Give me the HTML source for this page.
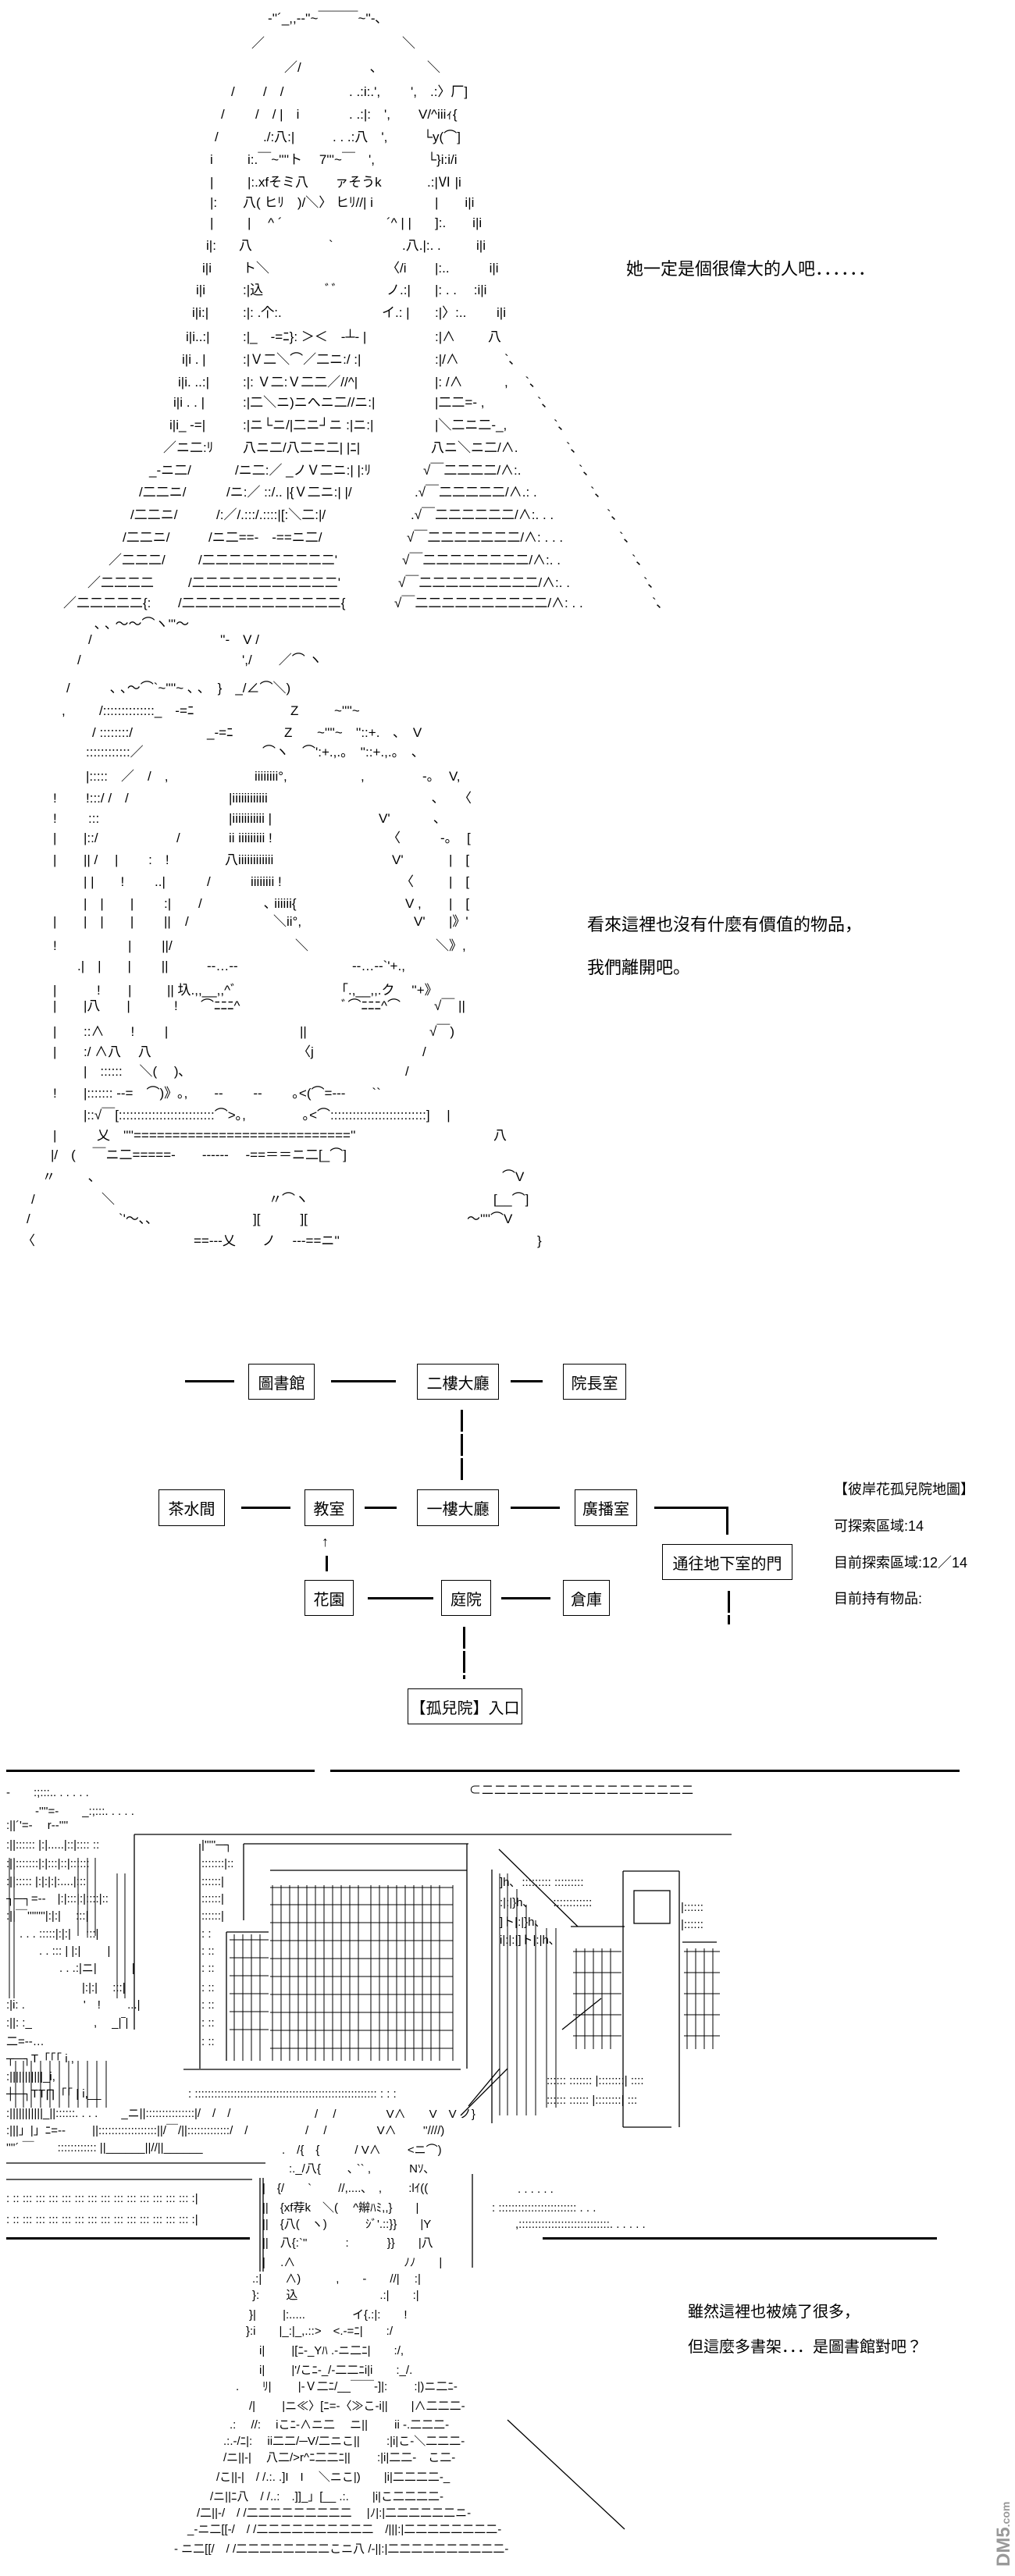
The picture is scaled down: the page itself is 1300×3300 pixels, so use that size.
<!DOCTYPE html>
<html><head><meta charset="utf-8">
<style>
html,body{margin:0;padding:0;background:#fff;}
#c{position:relative;width:1300px;height:3300px;overflow:hidden;background:#fff;color:#000;
font-family:"Liberation Sans","Noto Sans CJK JP",sans-serif;}
.a{position:absolute;white-space:pre;font-size:17px;line-height:1;color:#000;}
.b{position:absolute;white-space:pre;font-size:15px;line-height:1;color:#000;}
.t{position:absolute;white-space:pre;font-size:22px;line-height:1;}
.m{position:absolute;white-space:pre;font-size:18px;line-height:1;}
.bx{position:absolute;border:1.5px solid #000;box-sizing:border-box;font-size:20px;display:flex;align-items:center;justify-content:center;white-space:nowrap;}
.h{position:absolute;height:3px;background:#000;}
.v{position:absolute;width:3px;background:#000;}
.vd{position:absolute;width:3px;background:repeating-linear-gradient(#000 0 28px,#fff 28px 31px);}
</style></head><body><div id="c">

<!-- ART 1 -->
<span class="a" style="left:343px;top:15px">‐''´_,,-‐''~￣￣￣~''-､</span>
<span class="a" style="left:322px;top:47px">／</span><span class="a" style="left:515px;top:47px">＼</span>
<span class="a" style="left:364px;top:78px">／/</span><span class="a" style="left:474px;top:78px">､</span><span class="a" style="left:547px;top:78px">＼</span>
<span class="a" style="left:296px;top:109px">/</span><span class="a" style="left:337px;top:109px">/　/</span><span class="a" style="left:447px;top:109px">. .:i:.',</span><span class="a" style="left:526px;top:109px">',　.:〉厂]</span>
<span class="a" style="left:283px;top:138px">/</span><span class="a" style="left:327px;top:138px">/　/ |　i</span><span class="a" style="left:447px;top:138px">. .:|:　',</span><span class="a" style="left:536px;top:138px">V/^iiiｨ{</span>
<span class="a" style="left:275px;top:167px">/</span><span class="a" style="left:337px;top:167px">./:八:|</span><span class="a" style="left:426px;top:167px">. . .:八　',</span><span class="a" style="left:542px;top:167px">└y(⌒]</span>
<span class="a" style="left:269px;top:196px">i</span><span class="a" style="left:317px;top:196px">i:.￣~''''ト　 7'''~￣　',</span><span class="a" style="left:547px;top:196px">└}i:i/i</span>
<span class="a" style="left:269px;top:225px">|</span><span class="a" style="left:317px;top:225px">|:.xfそミ八　　ァそうk</span><span class="a" style="left:547px;top:225px">.:|Ⅵ |i</span>
<span class="a" style="left:269px;top:251px">|:</span><span class="a" style="left:311px;top:251px">八( ヒﾘ　)/＼〉 ヒﾘ//| i</span><span class="a" style="left:557px;top:251px">|　　i|i</span>
<span class="a" style="left:269px;top:277px">|</span><span class="a" style="left:317px;top:277px">|　 ^ ´</span><span class="a" style="left:495px;top:277px">´^ | |</span><span class="a" style="left:557px;top:277px">]:.　　i|i</span>
<span class="a" style="left:264px;top:306px">i|:</span><span class="a" style="left:306px;top:306px">八</span><span class="a" style="left:421px;top:306px">`</span><span class="a" style="left:515px;top:306px">.八.|:. .</span><span class="a" style="left:610px;top:306px">i|i</span>
<span class="a" style="left:259px;top:335px">i|i</span><span class="a" style="left:311px;top:335px">ト＼</span><span class="a" style="left:495px;top:335px">〈/i</span><span class="a" style="left:557px;top:335px">|:..　　　i|i</span>
<span class="a" style="left:251px;top:363px">i|i</span><span class="a" style="left:311px;top:363px">:|込</span><span class="a" style="left:416px;top:363px">ﾞﾞ</span><span class="a" style="left:495px;top:363px">ノ.:|</span><span class="a" style="left:557px;top:363px">|: . .　 :i|i</span>
<span class="a" style="left:246px;top:392px">i|i:|</span><span class="a" style="left:311px;top:392px">:|: .个:.</span><span class="a" style="left:489px;top:392px">イ.: |</span><span class="a" style="left:557px;top:392px">:|〉:..　　 i|i</span>
<span class="a" style="left:238px;top:423px">i|i..:|</span><span class="a" style="left:311px;top:423px">:|_　-=ﾆ}: ＞＜　-┴‐ |</span><span class="a" style="left:557px;top:423px">:|∧</span><span class="a" style="left:625px;top:423px">八</span>
<span class="a" style="left:233px;top:452px">i|i . |</span><span class="a" style="left:311px;top:452px">:|Ｖ二＼⌒／二ニ:/ :|</span><span class="a" style="left:557px;top:452px">:|/∧</span><span class="a" style="left:646px;top:452px">`､</span>
<span class="a" style="left:228px;top:481px">i|i. ..:|</span><span class="a" style="left:311px;top:481px">:|: Ｖ二:Ｖ二二／//^|</span><span class="a" style="left:557px;top:481px">|: /∧</span><span class="a" style="left:646px;top:481px">,　 `､</span>
<span class="a" style="left:222px;top:507px">i|i . . |</span><span class="a" style="left:311px;top:507px">:|二＼ニ)ニへニ二//ニ:|</span><span class="a" style="left:557px;top:507px">|二二=‐ ,</span><span class="a" style="left:688px;top:507px">`､</span>
<span class="a" style="left:217px;top:536px">i|i_ -=|</span><span class="a" style="left:311px;top:536px">:|ニ└ニ/|二ニ┘ニ :|ニ:|</span><span class="a" style="left:557px;top:536px">|＼二ニ二-_,</span><span class="a" style="left:709px;top:536px">`､</span>
<span class="a" style="left:209px;top:565px">／ニ二:ﾘ</span><span class="a" style="left:311px;top:565px">八ニ二/八二ニ二| |ﾆ|</span><span class="a" style="left:552px;top:565px">八ニ＼ニ二/∧.</span><span class="a" style="left:725px;top:565px">`､</span>
<span class="a" style="left:191px;top:594px">_-ニ二/</span><span class="a" style="left:301px;top:594px">/ニ二:／ _ノＶ二ニ:| |:ﾘ</span><span class="a" style="left:542px;top:594px">√￣二二二二/∧:.</span><span class="a" style="left:741px;top:594px">`､</span>
<span class="a" style="left:178px;top:622px">/二二ニ/</span><span class="a" style="left:290px;top:622px">/ニ:／ ::/.. |{Ｖ二ニ:| |/</span><span class="a" style="left:531px;top:622px">.√￣二二二二二/∧.: .</span><span class="a" style="left:756px;top:622px">`､</span>
<span class="a" style="left:167px;top:651px">/二二ニ/</span><span class="a" style="left:277px;top:651px">/:／/.:::/.::::|[:＼二:|/</span><span class="a" style="left:526px;top:651px">.√￣二二二二二二/∧:. . .</span><span class="a" style="left:777px;top:651px">`､</span>
<span class="a" style="left:157px;top:680px">/二二ニ/</span><span class="a" style="left:267px;top:680px">/ニ二==‐　‐==ニ二/</span><span class="a" style="left:521px;top:680px">√￣二二二二二二二/∧: . . .</span><span class="a" style="left:793px;top:680px">`､</span>
<span class="a" style="left:139px;top:709px">／二二二/</span><span class="a" style="left:254px;top:709px">/二二二二二二二二二二'</span><span class="a" style="left:515px;top:709px">√￣二二二二二二二二/∧:. .</span><span class="a" style="left:809px;top:709px">`､</span>
<span class="a" style="left:112px;top:738px">／二二二二</span><span class="a" style="left:241px;top:738px">/二二二二二二二二二二二'</span><span class="a" style="left:510px;top:738px">√￣二二二二二二二二二/∧:. .</span><span class="a" style="left:824px;top:738px">`､</span>
<span class="a" style="left:81px;top:764px">／二二二二二{:</span><span class="a" style="left:228px;top:764px">/二二二二二二二二二二二二{</span><span class="a" style="left:505px;top:764px">√￣二二二二二二二二二二/∧: . .</span><span class="a" style="left:835px;top:764px">`､</span>

<div class="t" style="left:802px;top:334px">她一定是個很偉大的人吧．．．．．．</div>

<!-- ART 2 -->
<span class="a" style="left:121px;top:791px">､ ､ ～～⌒ヽ'''～</span>
<span class="a" style="left:113px;top:811px">/</span><span class="a" style="left:282px;top:811px">''-　V /</span>
<span class="a" style="left:99px;top:837px">/</span><span class="a" style="left:310px;top:837px">',/　　／⌒ ヽ</span>
<span class="a" style="left:85px;top:873px">/</span><span class="a" style="left:141px;top:873px">､ ､～⌒`~''''~ ､ ､　}　_/∠⌒＼)</span>
<span class="a" style="left:79px;top:902px">,</span><span class="a" style="left:127px;top:902px">/::::::::::::::_　-=ﾆ</span><span class="a" style="left:372px;top:902px">Z</span><span class="a" style="left:428px;top:902px">~''''~</span>
<span class="a" style="left:118px;top:930px">/ ::::::::/</span><span class="a" style="left:265px;top:930px">_-=ﾆ</span><span class="a" style="left:364px;top:930px">Z</span><span class="a" style="left:406px;top:930px">~''''~　''::+.　､　V</span>
<span class="a" style="left:110px;top:955px">::::::::::::／</span><span class="a" style="left:336px;top:955px">⌒ヽ　⌒':+.,.。　''::+.,.。　､</span>
<span class="a" style="left:110px;top:986px">|:::::　／　/　,</span><span class="a" style="left:326px;top:986px">iiiiiiii°,</span><span class="a" style="left:462px;top:986px">,</span><span class="a" style="left:541px;top:986px">-。</span><span class="a" style="left:575px;top:986px">V,</span>
<span class="a" style="left:68px;top:1014px">!</span><span class="a" style="left:110px;top:1014px">!:::/ /　/</span><span class="a" style="left:293px;top:1014px">|iiiiiiiiiiii</span><span class="a" style="left:553px;top:1014px">､</span><span class="a" style="left:587px;top:1014px">〈</span>
<span class="a" style="left:68px;top:1040px">!</span><span class="a" style="left:113px;top:1040px">:::</span><span class="a" style="left:293px;top:1040px">|iiiiiiiiiii |</span><span class="a" style="left:485px;top:1040px">V'　　　 ､</span>
<span class="a" style="left:68px;top:1065px">|</span><span class="a" style="left:107px;top:1065px">|::/</span><span class="a" style="left:226px;top:1065px">/</span><span class="a" style="left:293px;top:1065px">ii iiiiiiiii !</span><span class="a" style="left:496px;top:1065px">〈</span><span class="a" style="left:564px;top:1065px">-。</span><span class="a" style="left:598px;top:1065px">[</span>
<span class="a" style="left:68px;top:1093px">|</span><span class="a" style="left:107px;top:1093px">|| /　 |　　 :　!</span><span class="a" style="left:288px;top:1093px">八iiiiiiiiiiii</span><span class="a" style="left:502px;top:1093px">V'</span><span class="a" style="left:575px;top:1093px">|　[</span>
<span class="a" style="left:107px;top:1121px">| |　　!　　 ..|</span><span class="a" style="left:265px;top:1121px">/</span><span class="a" style="left:321px;top:1121px">iiiiiiii !</span><span class="a" style="left:513px;top:1121px">〈</span><span class="a" style="left:575px;top:1121px">|　[</span>
<span class="a" style="left:107px;top:1149px">|　|　　|　　 :|</span><span class="a" style="left:254px;top:1149px">/</span><span class="a" style="left:338px;top:1149px">､ iiiiii{</span><span class="a" style="left:519px;top:1149px">V ,</span><span class="a" style="left:575px;top:1149px">|　[</span>
<span class="a" style="left:68px;top:1172px">|</span><span class="a" style="left:107px;top:1172px">|　|　　|　　 ||</span><span class="a" style="left:237px;top:1172px">/</span><span class="a" style="left:350px;top:1172px">＼ii°,</span><span class="a" style="left:530px;top:1172px">V'</span><span class="a" style="left:575px;top:1172px">|》'</span>
<span class="a" style="left:68px;top:1203px">!</span><span class="a" style="left:164px;top:1203px">|　　 ||/</span><span class="a" style="left:378px;top:1203px">＼</span><span class="a" style="left:558px;top:1203px">＼》,</span>
<span class="a" style="left:99px;top:1229px">.|　|　　|　　 ||</span><span class="a" style="left:265px;top:1229px">-‐…‐-</span><span class="a" style="left:451px;top:1229px">-‐…‐-`'+.,</span>
<span class="a" style="left:68px;top:1260px">|</span><span class="a" style="left:124px;top:1260px">!</span><span class="a" style="left:164px;top:1260px">|</span><span class="a" style="left:214px;top:1260px">|| 圦.,,__,,^ﾞ</span><span class="a" style="left:429px;top:1260px">「.,__,,.ク　 ''+》</span>
<span class="a" style="left:68px;top:1280px">|</span><span class="a" style="left:107px;top:1280px">|八　　|</span><span class="a" style="left:223px;top:1280px">!</span><span class="a" style="left:257px;top:1280px">⌒ﾆﾆﾆ^</span><span class="a" style="left:437px;top:1280px">ﾞ⌒ﾆﾆﾆ^⌒</span><span class="a" style="left:556px;top:1280px">√￣ ||</span>
<span class="a" style="left:68px;top:1313px">|</span><span class="a" style="left:107px;top:1313px">::∧　　!　　 |</span><span class="a" style="left:384px;top:1313px">||</span><span class="a" style="left:550px;top:1313px">√￣)</span>
<span class="a" style="left:68px;top:1339px">|</span><span class="a" style="left:107px;top:1339px">:/ ∧八　 八</span><span class="a" style="left:381px;top:1339px">〈j</span><span class="a" style="left:541px;top:1339px">/</span>
<span class="a" style="left:107px;top:1364px">|　::::::　 ＼(　 )､</span><span class="a" style="left:519px;top:1364px">/</span>
<span class="a" style="left:68px;top:1392px">!</span><span class="a" style="left:107px;top:1392px">|::::::: -‐=　⌒)》｡,　　--　　 --　　 ｡<(⌒=‐‐-　　``</span>
<span class="a" style="left:107px;top:1420px">|::√￣[::::::::::::::::::::::::::⌒>｡,　　　　 ｡<⌒::::::::::::::::::::::::::]　 |</span>
<span class="a" style="left:68px;top:1446px">|</span><span class="a" style="left:124px;top:1446px">乂　''''============================''</span><span class="a" style="left:632px;top:1446px">八</span>
<span class="a" style="left:65px;top:1471px">|/　(　 ￣ニ二=====‐　　‐‐‐‐‐‐　 ‐==＝＝ニ二[_⌒]</span>
<span class="a" style="left:54px;top:1499px">〃</span><span class="a" style="left:113px;top:1499px">､</span><span class="a" style="left:643px;top:1499px">⌒V</span>
<span class="a" style="left:40px;top:1528px">/</span><span class="a" style="left:130px;top:1528px">＼</span><span class="a" style="left:344px;top:1528px">〃⌒ヽ</span><span class="a" style="left:632px;top:1528px">[__⌒]</span>
<span class="a" style="left:34px;top:1553px">/</span><span class="a" style="left:152px;top:1553px">`'～､､</span><span class="a" style="left:324px;top:1553px">][　　　][</span><span class="a" style="left:598px;top:1553px">～''''⌒V</span>
<span class="a" style="left:28px;top:1581px">〈</span><span class="a" style="left:248px;top:1581px">==‐‐-乂　　ノ　 --‐==ニ''</span><span class="a" style="left:688px;top:1581px">}</span>

<div class="t" style="left:752px;top:1174px">看來這裡也沒有什麼有價值的物品，</div>
<div class="t" style="left:752px;top:1229px">我們離開吧。</div>

<!-- MAP -->
<div class="h" style="left:237px;top:1768px;width:63px"></div>
<div class="bx" style="left:318px;top:1747px;width:85px;height:46px">圖書館</div>
<div class="h" style="left:424px;top:1768px;width:83px"></div>
<div class="bx" style="left:534px;top:1747px;width:105px;height:46px">二樓大廳</div>
<div class="h" style="left:654px;top:1768px;width:41px"></div>
<div class="bx" style="left:721px;top:1747px;width:81px;height:46px">院長室</div>
<div class="vd" style="left:590px;top:1806px;height:91px"></div>

<div class="bx" style="left:203px;top:1908px;width:85px;height:47px">茶水間</div>
<div class="h" style="left:309px;top:1930px;width:63px"></div>
<div class="bx" style="left:390px;top:1908px;width:63px;height:47px">教室</div>
<div class="h" style="left:467px;top:1930px;width:41px"></div>
<div class="bx" style="left:534px;top:1908px;width:105px;height:47px">一樓大廳</div>
<div class="h" style="left:654px;top:1930px;width:63px"></div>
<div class="bx" style="left:736px;top:1908px;width:80px;height:47px">廣播室</div>
<div class="h" style="left:838px;top:1930px;width:95px"></div>
<div class="v" style="left:930px;top:1930px;height:36px"></div>
<div class="bx" style="left:848px;top:1978px;width:167px;height:46px">通往地下室的門</div>
<div class="vd" style="left:932px;top:2038px;height:43px"></div>

<div style="position:absolute;left:412px;top:1966px;font-size:18px;line-height:1">↑</div>
<div class="v" style="left:417px;top:1993px;height:20px"></div>

<div class="bx" style="left:390px;top:2024px;width:63px;height:46px">花園</div>
<div class="h" style="left:471px;top:2046px;width:84px"></div>
<div class="bx" style="left:565px;top:2024px;width:64px;height:46px">庭院</div>
<div class="h" style="left:642px;top:2046px;width:63px"></div>
<div class="bx" style="left:721px;top:2024px;width:60px;height:46px">倉庫</div>
<div class="vd" style="left:593px;top:2084px;height:67px"></div>
<div class="bx" style="left:522px;top:2163px;width:147px;height:46px">【孤兒院】入口</div>

<div class="m" style="left:1068px;top:1899px">【彼岸花孤兒院地圖】</div>
<div class="m" style="left:1068px;top:1946px">可探索區域:14</div>
<div class="m" style="left:1068px;top:1993px">目前探索區域:12／14</div>
<div class="m" style="left:1068px;top:2039px">目前持有物品:</div>

<!-- ART 3 lines -->
<div class="h" style="left:8px;top:2267px;width:395px"></div>
<div class="h" style="left:423px;top:2267px;width:806px"></div>
<div class="h" style="left:8px;top:2866px;width:312px"></div>
<div class="h" style="left:695px;top:2866px;width:505px"></div>
<span class="b" style="left:601px;top:2286px;letter-spacing:1px">⊂二二二二二二二二二二二二二二二二二</span>

<svg style="position:absolute;left:0;top:0" width="1300" height="3300">
<g stroke="#000" stroke-width="1.3" fill="none">
<line x1="172" y1="2350" x2="937" y2="2350"/>
<line x1="312" y1="2362" x2="600" y2="2362"/>
<line x1="172" y1="2350" x2="172" y2="2600"/>
<line x1="346" y1="2396" x2="598" y2="2396"/>
<line x1="235" y1="2651" x2="590" y2="2651"/>
<line x1="256" y1="2362" x2="256" y2="2650"/>
<line x1="312" y1="2362" x2="312" y2="2460"/>
<line x1="598" y1="2362" x2="598" y2="2650"/>
<line x1="290" y1="2475" x2="344" y2="2475"/>
<line x1="290" y1="2475" x2="290" y2="2640"/>
<line x1="639" y1="2369" x2="740" y2="2468"/>
<line x1="630" y1="2395" x2="630" y2="2720"/>
<line x1="731" y1="2468" x2="800" y2="2468"/>
<line x1="798" y1="2397" x2="870" y2="2397"/>
<line x1="798" y1="2397" x2="798" y2="2725"/>
<line x1="870" y1="2397" x2="870" y2="2725"/>
<line x1="798" y1="2725" x2="860" y2="2725"/>
<rect x="812" y="2422" width="46" height="42"/>
<line x1="874" y1="2488" x2="918" y2="2488"/>
<line x1="8" y1="2792" x2="323" y2="2792"/>
<line x1="333" y1="2790" x2="333" y2="2910"/>
<line x1="337" y1="2790" x2="337" y2="2910"/>
<line x1="605" y1="2785" x2="605" y2="2905"/>
<line x1="720" y1="2600" x2="770" y2="2560"/>
<line x1="650" y1="3100" x2="800" y2="3240"/>
<line x1="8" y1="2771" x2="340" y2="2771"/>
<line x1="600" y1="2698" x2="640" y2="2650"/>
<line x1="590" y1="2710" x2="650" y2="2650"/>
</g>
<g stroke="#000" stroke-width="1">
<path d="M349 2415V2640M360 2415V2640M371 2415V2640M382 2415V2640M393 2415V2640M404 2415V2640M415 2415V2640M426 2415V2640M437 2415V2640M448 2415V2640M459 2415V2640M475 2415V2640M486 2415V2640M497 2415V2640M508 2415V2640M519 2415V2640M530 2415V2640M541 2415V2640M552 2415V2640M563 2415V2640M580 2415V2640"/>
<path d="M346 2418H580M346 2440H580M346 2463H580M346 2486H580M346 2509H580M346 2532H580M346 2555H580M346 2578H580M346 2601H580M346 2624H580"/>
<path d="M294 2485H344M294 2508H344M294 2531H344M294 2554H344M294 2577H344M294 2600H344M300 2478V2640M311 2478V2640M322 2478V2640M333 2478V2640"/>
<path d="M640 2400V2710M650 2400V2710M662 2420V2710M674 2440V2710M686 2460V2710M700 2470V2700M712 2470V2700"/>
<path d="M738 2496V2625M749 2496V2625M760 2496V2625M771 2496V2625M782 2496V2625M734 2500H796M734 2527H796M734 2554H796M734 2581H796M734 2608H796"/>
<path d="M880 2496V2625M891 2496V2625M902 2496V2625M913 2496V2625M876 2500H922M876 2527H922M876 2554H922M876 2581H922M876 2608H922"/>
<path d="M12 2380V2560M18 2380V2560M100 2380V2480M112 2380V2480M122 2380V2480M150 2400V2560M160 2400V2560"/>
<path d="M20 2640V2700M30 2640V2700M40 2640V2700M52 2640V2700M64 2640V2700M76 2640V2700M88 2640V2700M100 2640V2700M112 2640V2700M124 2640V2700M136 2640V2700"/>
</g>
</svg>

<!-- ART 3 text -->
<span class="b" style="left:8px;top:2289px">‐　　:;:::.. . . . . .</span>
<span class="b" style="left:45px;top:2313px">-''''=-　　_:;:::. . . . .</span>
<span class="b" style="left:8px;top:2331px">:||´'=-　 r‐-''''</span>
<span class="b" style="left:8px;top:2356px">:||:::::: |:|.....|::|:::: ::</span><span class="b" style="left:258px;top:2356px">|'''''─┐</span>
<span class="b" style="left:8px;top:2380px">:||:::::::|:|:::|::|::::::</span><span class="b" style="left:258px;top:2380px">:::::::|::</span>
<span class="b" style="left:8px;top:2403px">:||::::: |:|:|:|:....|:::</span><span class="b" style="left:258px;top:2403px">::::::|</span>
<span class="b" style="left:8px;top:2425px">┐─┐=-‐　|:|:::|:|::::|::</span><span class="b" style="left:258px;top:2425px">::::::|</span>
<span class="b" style="left:8px;top:2447px">:||￣''''''''|:|:|　 :::|</span><span class="b" style="left:258px;top:2447px">::::::|</span>
<span class="b" style="left:25px;top:2470px">. . . :::::|:|:|　 :::|</span><span class="b" style="left:258px;top:2470px">: :</span>
<span class="b" style="left:50px;top:2492px">. . ::: | |:|　　 |</span><span class="b" style="left:258px;top:2492px">: ::</span>
<span class="b" style="left:76px;top:2514px">. . .:|ニ|　　　|</span><span class="b" style="left:258px;top:2514px">: ::</span>
<span class="b" style="left:105px;top:2539px">|:|:|　 :::|</span><span class="b" style="left:258px;top:2539px">: ::</span>
<span class="b" style="left:8px;top:2561px">:|i: .　　　　　'　!　　 ...|</span><span class="b" style="left:258px;top:2561px">: ::</span>
<span class="b" style="left:8px;top:2584px">:||: :_　　　　　 ,　 _|‾|</span><span class="b" style="left:258px;top:2584px">: ::</span>
<span class="b" style="left:8px;top:2608px">二=-‐…</span><span class="b" style="left:258px;top:2608px">: ::</span>
<span class="b" style="left:8px;top:2630px">┬─┐T「「「 i ,</span>
<span class="b" style="left:8px;top:2653px">:|||||||||||_i,</span>
<span class="b" style="left:8px;top:2675px">┼─┐TT∏「「 | i,__</span><span class="b" style="left:241px;top:2675px">: :::::::::::::::::::::::::::::::::::::::::::::::::::::::: : : :</span>
<span class="b" style="left:8px;top:2700px">:|||||||||||_||::::::. . . .　　_ニ||:::::::::::::::|/　/　/</span>
<span class="b" style="left:8px;top:2722px">:|||」|」ﾆ=-‐　　 ||::::::::::::::::::||/￣/||:::::::::::::/　/</span>
<span class="b" style="left:8px;top:2744px">''''´ ￣　　:::::::::::: ||______||//||______</span>
<span class="b" style="left:8px;top:2809px">: :: ::: ::: ::: ::: ::: ::: ::: ::: ::: ::: ::: ::: ::: :|</span>
<span class="b" style="left:8px;top:2836px">: :: ::: ::: ::: ::: ::: ::: ::: ::: ::: ::: ::: ::: ::: :|</span>
<span class="b" style="left:640px;top:2404px">]h､</span><span class="b" style="left:660px;top:2404px">  ::::::::: :::::::::</span>
<span class="b" style="left:640px;top:2430px">:|:|}h､</span><span class="b" style="left:700px;top:2430px">  ::::::::::::</span>
<span class="b" style="left:640px;top:2455px">]ト|:|}h､</span>
<span class="b" style="left:640px;top:2478px">i|:|:|]ト|:|h､</span>
<span class="b" style="left:872px;top:2436px">|::::::</span><span class="b" style="left:872px;top:2458px">|::::::</span>
<span class="b" style="left:700px;top:2658px">:::::: ::::::: |::::::::| ::::</span>
<span class="b" style="left:700px;top:2683px">:::::: :::::: |::::::::| :::</span>
<span class="b" style="left:663px;top:2797px">. . . . . .</span>
<span class="b" style="left:630px;top:2821px">: :::::::::::::::::::::::: . . .</span>
<span class="b" style="left:660px;top:2842px">,::::::::::::::::::::::::::::. . . . . .</span>

<span class="b" style="left:403px;top:2701px">/　 /　　　　 V∧　　V　V ノ}</span>
<span class="b" style="left:391px;top:2722px">/　 /　　　　 V∧　　 ''////)</span>
<span class="b" style="left:361px;top:2747px">.　/{　{　　　/ V∧　　 <ニ⌒)</span>
<span class="b" style="left:370px;top:2771px">:._/八{　　 ､ `` ,　　　 Nｿ､</span>
<span class="b" style="left:336px;top:2796px">|　{/　　`　　 //,....､　,　　 :lｲ((</span>
<span class="b" style="left:336px;top:2821px">||　{xf荐k　＼(　 ^辮ﾊﾐ,,}　　|</span>
<span class="b" style="left:336px;top:2842px">||　{八(　ヽ)　　　 ｼﾞ'.::}}　　|Y</span>
<span class="b" style="left:336px;top:2866px">||　八{:`"　　　 :　　　 }}　　|八</span>
<span class="b" style="left:336px;top:2891px">|　 .∧　　　　　　　　　 ﾉﾉ　　|</span>
<span class="b" style="left:323px;top:2912px">.:|　　∧)　　　,　　-　　//|　 :|</span>
<span class="b" style="left:323px;top:2933px">}:　　 込　　　　　　　.:|　　:|</span>
<span class="b" style="left:319px;top:2958px">}|　　 |:.....　　　　イ{.:|:　　!</span>
<span class="b" style="left:315px;top:2979px">}:i　　|_:|_,.::>　<.-=ﾆ|　　:/</span>
<span class="b" style="left:332px;top:3004px">i|　　 |[ﾆ-_Yﾊ .-ニ二ﾆ|　　:/,</span>
<span class="b" style="left:332px;top:3029px">i|　　 |'/こﾆ-_/-二二ﾆi|i　　:_/.</span>
<span class="b" style="left:302px;top:3050px">.　　ﾘ|　　 |-Ｖ二ﾆ/__￣￣-]|:　　 :|)ニ二ﾆ-</span>
<span class="b" style="left:319px;top:3075px">/|　　 |ニ≪〉[ﾆ=-〈≫こ-i||　　|∧二二二-</span>
<span class="b" style="left:294px;top:3099px">.:　 //:　 iこﾆ-∧ニ二　 ニ||　　 ii -.二二二-</span>
<span class="b" style="left:286px;top:3120px">.:.-/ﾆ|:　 ii二二/─V/二ニこ||　　 :|i|こ‐＼二二二-</span>
<span class="b" style="left:286px;top:3141px">/ニ||-|　 八二/>r^ﾆ二二ﾆ||　　 :|i|二二-　こ二-</span>
<span class="b" style="left:277px;top:3166px">/こ||-|　/ /.:. .]I　I　 ＼ニこ|)　　|i|二二二二-_</span>
<span class="b" style="left:269px;top:3191px">/ニ||ﾆ八　/ /..:　.]]_」[__ .:.　　|i|こ二二二二-</span>
<span class="b" style="left:252px;top:3212px">/二||-/　/ /二二二二二二二二二　 |ﾉ|:|二二二二二二ニ-</span>
<span class="b" style="left:240px;top:3233px">_-ニ二[[-/　/ /二二二二二二二二二二　/|||:|二二二二二二二二-</span>
<span class="b" style="left:223px;top:3258px">- ニ二[[/　/ /二二二二二二二二こニ八 /-||:|二二二二二二二二二二-</span>

<div class="t" style="left:881px;top:2952px;font-size:20px">雖然這裡也被燒了很多，</div>
<div class="t" style="left:881px;top:2997px;font-size:20px">但這麼多書架．．．是圖書館對吧？</div>

<div style="position:absolute;left:1216px;top:3205px;width:140px;height:26px;transform:rotate(-90deg);transform-origin:center;font-size:24px;font-weight:bold;color:#999;line-height:26px;white-space:nowrap">DM5<span style="font-size:14px">.com</span></div>

</div></body></html>
